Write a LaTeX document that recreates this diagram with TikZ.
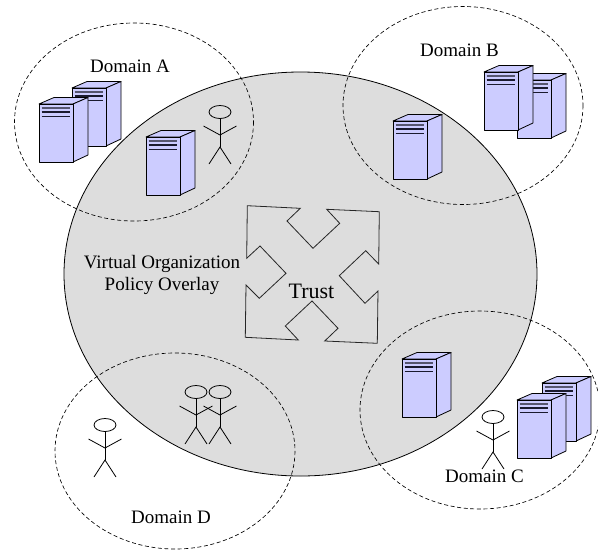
\documentclass[tikz,border=0pt]{standalone}
\usepackage{fontspec}
\setmainfont{Liberation Serif}
\definecolor{overlaygray}{HTML}{DDDDDD}
\definecolor{serverblue}{HTML}{CCCCFF}
\definecolor{serverbar}{HTML}{1A1A2E}
\definecolor{serverbarlight}{HTML}{55556E}
\tikzset{
  overlay region/.style={draw=black,line width=0.8pt,fill=overlaygray},
  domain ring/.style={draw=black,line width=0.65pt,dash pattern=on 4pt off 2.6pt},
  trust outline/.style={draw=black!85,line width=0.8pt,line join=miter},
  label text/.style={font=\fontsize{19}{22}\selectfont,align=center,inner sep=0pt},
  server line/.style={draw=black,line width=0.8pt,fill=serverblue,line join=round},
  server bar/.style={draw=serverbar,line width=1.5pt},
  server top bar/.style={draw=serverbarlight,line width=2pt},
  person line/.style={draw=black,line width=0.8pt},
  server/.pic={
    \path[server line] (0,0) -- (15,-6.5) -- (49,-6.5) -- (34,0) -- cycle;
    \path[server line] (34,0) -- (49,-6.5) -- (49,51) -- (34,58) -- cycle;
    \path[server line] (0,0) rectangle (34,58);
    \draw[server top bar] (2.5,3.5) -- (31,3.5);
    \draw[server bar] (2.5,8) -- (31,8);
    \draw[server bar] (2.5,12.5) -- (31,12.5);
  },
  person/.pic={
    \draw[person line] (0,0) ellipse [x radius=11,y radius=6.5];
    \draw[person line] (0,6.5) -- (0,35);
    \draw[person line] (-16.5,14) -- (0,23) -- (16.5,14);
    \draw[person line] (-11,52) -- (0,35) -- (11,52);
  }
}
\begin{document}
\begin{tikzpicture}[x=1pt,y=-1pt]
\useasboundingbox (0,0) rectangle (598,550);
\fill[white] (0,0) rectangle (598,550);
\path[overlay region] (300.5,274) ellipse [x radius=236.5,y radius=202];
% Trust arrows
\path[trust outline] (247.3,205.7) -- (300.3,208.3) -- (287,221) -- (313,248.3) -- (339.7,223.3) -- (326.7,209.3) -- (379.3,211.7) -- (378.7,264) -- (365.7,250.7) -- (339.3,275.7) -- (365,303.3) -- (378,291) -- (377.3,343.3) -- (324.7,341) -- (338,328.3) -- (312,301) -- (285.3,326) -- (298.3,340) -- (245.3,337.3) -- (246,285) -- (259.3,298.3) -- (286,273.3) -- (260,246) -- (246.7,258.3) -- cycle;
% Domain rings
\begin{scope}
\clip (0,0) rectangle (598,550);
\path[domain ring] (134,122) ellipse [x radius=119.5,y radius=99];
\path[domain ring] (463,105.5) ellipse [x radius=120,y radius=99];
\path[domain ring] (480,410) ellipse [x radius=120,y radius=99];
\path[domain ring] (175,451) ellipse [x radius=120,y radius=98];
\end{scope}
% Servers
\pic at (72,88) {server};
\pic at (39,104) {server};
\pic at (146,137) {server};
\pic at (517,80) {server};
\pic at (484,72) {server};
\pic at (393,121) {server};
\pic at (402,359) {server};
\pic at (542,383) {server};
\pic at (517,400) {server};
% People
\pic at (220,112) {person};
\pic at (105,425) {person};
\pic at (196,392) {person};
\pic at (220,392) {person};
\pic at (493,417) {person};
% Labels
\node[label text] (labelA) at (130,66) {Domain A};
\node[label text] (labelB) at (459.5,50) {Domain B};
\node[label text] (labelC) at (484.5,476.5) {Domain C};
\node[label text] (labelD) at (171,517) {Domain D};
\node[label text] (labelVO) at (162,274.5) {Virtual Organization\\Policy Overlay};
\node[label text,font=\fontsize{22}{26}\selectfont] (labelTrust) at (311.5,291) {Trust};
\end{tikzpicture}
\end{document}
